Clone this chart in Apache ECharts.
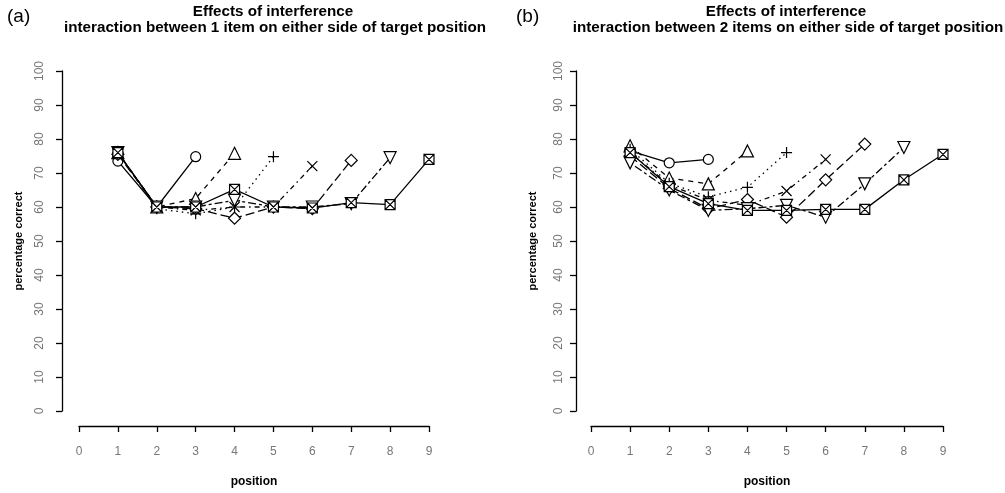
<!DOCTYPE html>
<html>
<head>
<meta charset="utf-8">
<script src="https://cdn.jsdelivr.net/npm/echarts@6/dist/echarts.min.js"></script>
<style>
html,body{margin:0;padding:0;background:#fff;}
#chart{width:1005px;height:493px;}
</style>
</head>
<body>
<div id="chart"></div>
<script>
// ---- data ----
const positions = [1, 2, 3, 4, 5, 6, 7, 8, 9];
const xTicks = [0, 1, 2, 3, 4, 5, 6, 7, 8, 9];
const yTicks = [0, 10, 20, 30, 40, 50, 60, 70, 80, 90, 100];

// Panel (a): 1 item on either side of target position
const aCircle   = [73.5, 60.0, 74.8];
const aTriangle = [76.0, 60.0, 62.5, 75.8];
const aPlus     = [76.0, 59.5, 58.0, 60.0, 74.8];
const aCross    = [76.0, 60.0, 59.0, 60.0, 60.0, 72.0];
const aDiamond  = [75.5, 60.0, 59.5, 56.7, 60.0, 59.5, 73.7];
const aDownTri  = [76.0, 60.0, 60.0, 62.0, 60.0, 60.0, 61.0, 74.5];
const aBoxX     = [76.0, 60.0, 60.0, 65.2, 60.0, 59.7, 61.3, 60.7, 74.0];

// Panel (b): 2 items on either side of target position
const bCircle   = [76.5, 73.0, 74.0];
const bTriangle = [78.0, 68.5, 66.8, 76.5];
const bPlus     = [77.0, 67.0, 63.0, 65.8, 76.0];
const bCross    = [76.0, 66.5, 62.0, 60.5, 64.7, 74.0];
const bDiamond  = [75.0, 65.5, 59.5, 62.2, 57.0, 68.0, 78.5];
const bDownTri  = [73.0, 65.0, 59.0, 59.5, 60.5, 57.0, 66.8, 77.5];
const bBoxX     = [76.0, 66.0, 61.0, 59.0, 59.0, 59.3, 59.3, 68.0, 75.5];

const titleLine1 = 'Effects of interference';
const titleA = 'interaction between 1 item on either side of target position';
const titleB = 'interaction between 2 items on either side of target position';

// ---- styles ----
const FONT = '"Liberation Sans", Arial, sans-serif';
const symbols = [
  'circle',
  'triangle',
  'path://M5,0 L5,10 M0,5 L10,5',
  'path://M0,0 L10,10 M10,0 L0,10',
  'diamond',
  'path://M0,0 L10,0 L5,9 Z',
  'path://M0,0 L10,0 L10,10 L0,10 Z M0,0 L10,10 M10,0 L0,10'
];
const symbolSizes = [10, 12, 11, 10, 12, 12, 10];
const lineTypes = ['solid', [5, 5], [1.5, 4], [1.5, 4, 5, 4], [9, 4], [3, 3, 8, 3], 'solid'];

const panelA = [aCircle, aTriangle, aPlus, aCross, aDiamond, aDownTri, aBoxX];
const panelB = [bCircle, bTriangle, bPlus, bCross, bDiamond, bDownTri, bBoxX];

function makeSeries(panel, idx) {
  return panel.map((vals, i) => ({
    type: 'line',
    xAxisIndex: idx,
    yAxisIndex: idx,
    data: vals.map((v, j) => [positions[j], v]),
    symbol: symbols[i],
    symbolSize: symbolSizes[i],
    showAllSymbol: true,
    lineStyle: { color: '#000', width: 1.3, type: lineTypes[i] },
    itemStyle: { color: '#fff', borderColor: '#000', borderWidth: 1.2 },
    emphasis: { disabled: true },
    z: 2 + i
  }));
}

function xAxis(idx) {
  return {
    type: 'value', gridIndex: idx, min: 0, max: 9, interval: 1,
    offset: 15,
    axisLine: { show: true, onZero: false, lineStyle: { color: '#000', width: 1.3 } },
    axisTick: { show: true, length: 6, lineStyle: { color: '#000', width: 1.3 } },
    axisLabel: { color: '#777', fontSize: 12, fontFamily: FONT, margin: 20,
      formatter: v => xTicks.includes(v) ? String(v) : '' },
    splitLine: { show: false },
    name: 'position', nameLocation: 'middle', nameGap: 50,
    nameTextStyle: { color: '#000', fontSize: 12, fontWeight: 'bold', fontFamily: FONT }
  };
}
function yAxis(idx, off, margin) {
  return {
    type: 'value', gridIndex: idx, min: 0, max: 100, interval: 10,
    offset: off,
    axisLine: { show: true, onZero: false, lineStyle: { color: '#000', width: 1.3 } },
    axisTick: { show: true, length: 6, lineStyle: { color: '#000', width: 1.3 } },
    axisLabel: { color: '#777', fontSize: 12, fontFamily: FONT, margin: margin, rotate: 90,
      formatter: v => yTicks.includes(v) ? String(v) : '' },
    splitLine: { show: false },
    name: 'percentage correct', nameLocation: 'middle', nameGap: 38,
    nameTextStyle: { color: '#000', fontSize: 11, fontWeight: 'bold', fontFamily: FONT }
  };
}

const chart = echarts.init(document.getElementById('chart'), null, { renderer: 'canvas' });
chart.setOption({
  animation: false,
  backgroundColor: '#fff',
  grid: [
    { left: 79, width: 350, top: 71, height: 347 },
    { left: 591, width: 352, top: 71, height: 347 }
  ],
  xAxis: [xAxis(0), xAxis(1)],
  yAxis: [yAxis(0, 17, 16), yAxis(1, 15, 11)],
  graphic: [
    { type: 'text', style: { text: '(a)', x: 7, y: 7, font: '19px ' + FONT, fill: '#000' } },
    { type: 'text', style: { text: '(b)', x: 516, y: 7, font: '19px ' + FONT, fill: '#000' } },
    { type: 'text', style: { text: titleLine1, x: 273, y: 4, textAlign: 'center', font: 'bold 15.2px ' + FONT, fill: '#000' } },
    { type: 'text', style: { text: titleA, x: 275, y: 20, textAlign: 'center', font: 'bold 15.2px ' + FONT, fill: '#000' } },
    { type: 'text', style: { text: titleLine1, x: 786, y: 4, textAlign: 'center', font: 'bold 15.2px ' + FONT, fill: '#000' } },
    { type: 'text', style: { text: titleB, x: 788, y: 20, textAlign: 'center', font: 'bold 15.2px ' + FONT, fill: '#000' } }
  ],
  series: makeSeries(panelA, 0).concat(makeSeries(panelB, 1))
});
</script>
</body>
</html>
